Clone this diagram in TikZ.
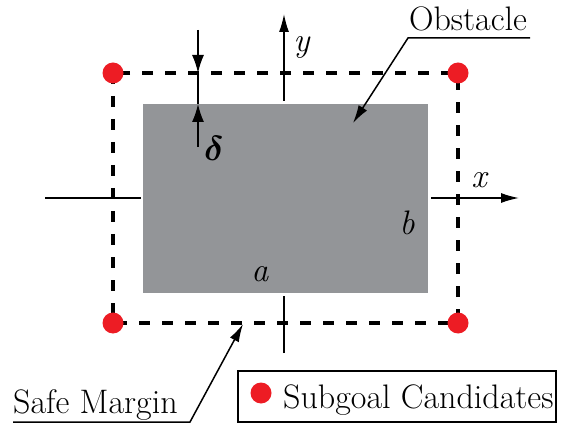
\documentclass[tikz,border=0pt]{standalone}
\usepackage{bm}
\usepackage{fontspec}
\usetikzlibrary{arrows.meta,positioning}
\definecolor{obstgray}{RGB}{147,149,152}
\definecolor{candred}{RGB}{237,28,36}

\begin{document}
\begin{tikzpicture}[
    x=1pt, y=-1pt,
    font=\fontsize{34}{38}\selectfont,
    axis/.style={line width=1.5pt},
    axisarrow/.style={line width=1.5pt, -{Latex[length=18pt,width=10pt]}},
    margin/.style={line width=3.5pt, dash pattern=on 11pt off 12pt},
    cand/.style={circle, fill=candred, inner sep=0pt, minimum size=21pt},
    lbl/.style={inner sep=0pt}
]
\useasboundingbox (0,0) rectangle (561,427);

% Obstacle and safe margin
\fill[obstgray] (143,104) rectangle (428,293);
\draw[margin] (113,73) rectangle (458,323);

% Subgoal candidates at the margin corners
\node[cand] (c1) at (113,73) {};
\node[cand] (c2) at (458,73) {};
\node[cand] (c3) at (113,323) {};
\node[cand] (c4) at (458,323) {};

% Axes (cut by the obstacle)
\coordinate (xl1) at (45,198);
\coordinate (xl2) at (141,198);
\coordinate (xr1) at (431,198);
\coordinate (xr2) at (519,198);
\coordinate (yb1) at (284,353);
\coordinate (yb2) at (284,296);
\coordinate (yt1) at (284,101);
\coordinate (yt2) at (284,14);
\draw[axis] (xl1) -- (xl2);
\draw[axisarrow] (xr1) -- (xr2);
\draw[axis] (yb1) -- (yb2);
\draw[axisarrow] (yt1) -- (yt2);
\node[lbl] (xlab) at (480,180) {\textit{x}};
\node[lbl] (ylab) at (302,47) {\textit{y}};

% Margin width
\coordinate (d1) at (198,30);
\coordinate (d2) at (198,73);
\coordinate (d3) at (198,147);
\coordinate (d4) at (198,104);
\draw[axisarrow, -{Latex[length=18pt,width=12pt]}] (d1) -- (d2);
\draw[axisarrow, -{Latex[length=18pt,width=12pt]}] (d3) -- (d4);
\draw[axis] (d2) -- (d4);
\node[lbl, scale=1.4] (dlab) at (214,148) {$\bm{\delta}$};

% Side lengths
\node[lbl] (alab) at (260,274) {\textit{a}};
\node[lbl] (blab) at (407,223) {\textit{b}};

% Obstacle label
\node[lbl] (obs) at (468,19) {Obstacle};
\coordinate (obsr) at (530,38);
\coordinate (obsl) at (408,38);
\coordinate (obstip) at (353,123);
\draw[axisarrow] (obsr) -- (obsl) -- (obstip);

% Safe margin label
\node[lbl, anchor=base west] (safe) at (13,413) {Safe Margin};
\coordinate (safel) at (13,422);
\coordinate (safer) at (190,422);
\coordinate (safetip) at (243,324);
\draw[axisarrow] (safel) -- (safer) -- (safetip);

% Legend
\node[draw, line width=1.5pt, minimum width=318pt, minimum height=51pt] (legend) at (397,396.5) {};
\node[cand] (lgdot) at (261,393) {};
\node[lbl, anchor=base west] (lgtext) at (283,408) {Subgoal Candidates};
\end{tikzpicture}
\end{document}
